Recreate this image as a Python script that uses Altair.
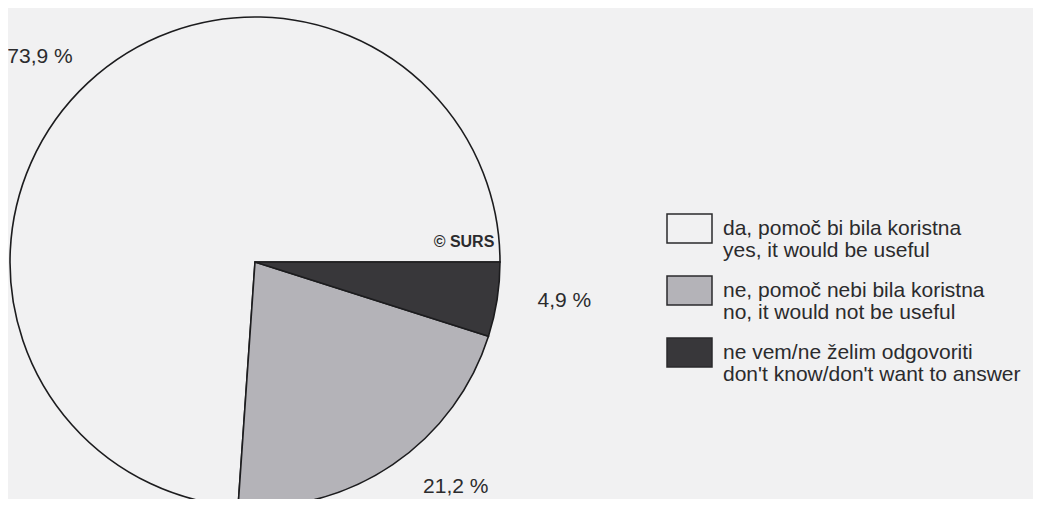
import math
import altair as alt
import pandas as pd

# --- data ---
labels_sl = ["da, pomoč bi bila koristna", "ne, pomoč nebi bila koristna", "ne vem/ne želim odgovoriti"]
labels_en = ["yes, it would be useful", "no, it would not be useful", "don't know/don't want to answer"]
values = [73.9, 21.2, 4.9]
slice_order = [3, 2, 1]  # clockwise from 3 o'clock: dark, grey, white
fills = ["#f1f1f2", "#b4b3b8", "#38373a"]
source_note = ["© SURS"]

cats = [a + "|" + b for a, b in zip(labels_sl, labels_en)]
df = pd.DataFrame({
    "cat": cats,
    "value": values,
    "ord": slice_order,
    "pct": [f"{v:.1f}".replace(".", ",") + " %" for v in values],
})

FONT = "Liberation Sans"
TXT = "#2b2b2d"

theta = alt.Theta(
    "value:Q", stack=True,
    scale=alt.Scale(domain=[0, 100], range=[math.pi / 2, math.pi / 2 + 2 * math.pi]),
)
base = alt.Chart(df).encode(
    theta=theta,
    order=alt.Order("ord:Q"),
    x=alt.value(247),
    y=alt.value(254),
)

pie = base.mark_arc(radius=245, stroke="#1c1c1e", strokeWidth=1.6).encode(
    fill=alt.Fill(
        "cat:N",
        scale=alt.Scale(domain=cats, range=fills),
        legend=alt.Legend(
            title=None,
            orient="none",
            legendX=658,
            legendY=197,
            symbolType="M-1,-0.644H1V0.644H-1Z",
            symbolSize=2025,
            symbolStrokeColor="#2a2a2c",
            symbolStrokeWidth=1.5,
            labelFont=FONT,
            labelFontSize=21,
            labelColor=TXT,
            labelExpr="split(datum.label, '|')",
            labelLimit=500,
            labelOffset=10,
            rowPadding=6,
        ),
    )
)

# percentage labels: placed on the slice mid-angle, with small nudges as in the reference
pct_layers = []
nudges = {cats[0]: (-9, 16), cats[1]: (31, -25), cats[2]: (11, -7)}
for c in cats:
    ddx, ddy = nudges[c]
    pct_layers.append(
        base.mark_text(radius=302, font=FONT, fontSize=21, color=TXT, dx=ddx, dy=ddy)
        .encode(text="pct:N", opacity=alt.condition(alt.datum.cat == c, alt.value(1), alt.value(0)))
    )

note = alt.Chart(pd.DataFrame({"t": source_note})).mark_text(
    font=FONT, fontSize=16, fontWeight="bold", color=TXT, align="center"
).encode(text="t:N", x=alt.value(456), y=alt.value(234))

chart = alt.layer(pie, *pct_layers, note).properties(
    width=1025, height=491, padding=0, autosize="none",
    background="#f1f1f2",
).configure(
    view=alt.ViewConfig(stroke="transparent"),
    style={"guide-label": {"lineHeight": 22}},
)

chart.save("out.html", embed_options={"renderer": "svg", "actions": False})
